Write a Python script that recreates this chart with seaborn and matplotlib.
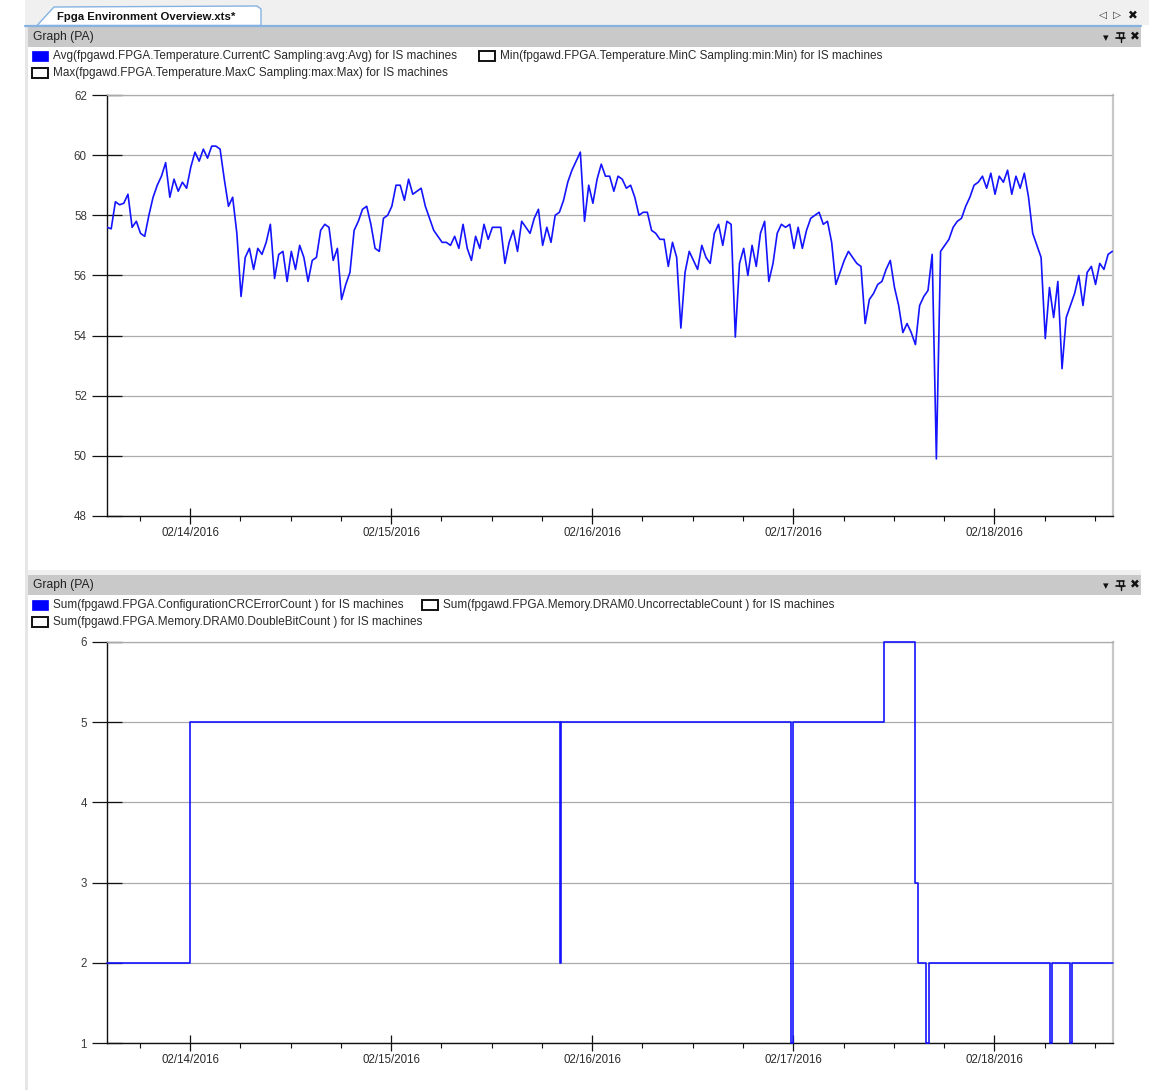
import matplotlib
matplotlib.use('Agg')
import matplotlib.pyplot as plt
import matplotlib.dates as mdates
from matplotlib.patches import Rectangle, Polygon
import pandas as pd
import seaborn as sns

# ---------------- data ----------------
temp_start = '2016-02-13 14:05'   # one sample every 30 minutes
temp_values = [
    57.6, 57.55, 58.45, 58.35, 58.4, 58.7, 57.6, 57.8, 57.4, 57.3,
    58.0, 58.6, 59.0, 59.3, 59.75, 58.6, 59.2, 58.8, 59.1, 58.9,
    59.6, 60.1, 59.8, 60.2, 59.9, 60.3, 60.3, 60.2, 59.2, 58.3,
    58.6, 57.4, 55.3, 56.6, 56.9, 56.2, 56.9, 56.7, 57.1, 57.7,
    55.9, 56.7, 56.8, 55.8, 56.8, 56.2, 57.0, 56.6, 55.8, 56.5,
    56.6, 57.5, 57.7, 57.6, 56.5, 56.9, 55.2, 55.7, 56.1, 57.5,
    57.8, 58.2, 58.3, 57.7, 56.9, 56.8, 57.9, 58.0, 58.3, 59.0,
    59.0, 58.5, 59.2, 58.7, 58.8, 58.9, 58.3, 57.9, 57.5, 57.3,
    57.1, 57.1, 57.0, 57.3, 56.9, 57.7, 56.9, 56.5, 57.3, 56.9,
    57.7, 57.2, 57.6, 57.6, 57.6, 56.4, 57.1, 57.5, 56.8, 57.8,
    57.6, 57.4, 57.9, 58.2, 57.0, 57.6, 57.1, 58.0, 58.1, 58.5,
    59.1, 59.5, 59.8, 60.1, 57.8, 59.0, 58.4, 59.2, 59.7, 59.3,
    59.3, 58.8, 59.3, 59.2, 58.9, 59.0, 58.6, 58.0, 58.1, 58.1,
    57.5, 57.4, 57.2, 57.2, 56.3, 57.1, 56.6, 54.25, 56.1, 56.8,
    56.5, 56.2, 57.0, 56.6, 56.4, 57.4, 57.7, 57.0, 57.8, 57.7,
    53.95, 56.4, 56.9, 56.0, 57.0, 56.3, 57.4, 57.8, 55.8, 56.4,
    57.4, 57.7, 57.6, 57.7, 56.9, 57.6, 56.9, 57.5, 57.9, 58.0,
    58.1, 57.7, 57.8, 57.1, 55.7, 56.1, 56.5, 56.8, 56.6, 56.4,
    56.3, 54.4, 55.2, 55.4, 55.7, 55.8, 56.2, 56.5, 55.6, 55.0,
    54.1, 54.4, 54.1, 53.7, 55.0, 55.3, 55.5, 56.7, 49.9, 56.8,
    57.0, 57.2, 57.6, 57.8, 57.9, 58.3, 58.6, 59.0, 59.1, 59.3,
    58.9, 59.4, 58.7, 59.3, 59.1, 59.5, 58.7, 59.3, 58.9, 59.4,
    58.6, 57.4, 57.0, 56.6, 53.9, 55.6, 54.6, 55.8, 52.9, 54.6,
    55.0, 55.4, 56.0, 55.0, 56.1, 56.3, 55.7, 56.4, 56.2, 56.7, 56.8,
]

crc_times = [
    '2016-02-13 14:05', '2016-02-14 00:00', '2016-02-15 20:10', '2016-02-15 20:20',
    '2016-02-16 23:45', '2016-02-16 23:55', '2016-02-17 10:50', '2016-02-17 14:30',
    '2016-02-17 14:55', '2016-02-17 15:50', '2016-02-17 16:15', '2016-02-18 06:40',
    '2016-02-18 06:50', '2016-02-18 09:05', '2016-02-18 09:15', '2016-02-18 14:10',
]
crc_values = [2, 5, 2, 5, 1, 5, 6, 3, 2, 1, 2, 1, 2, 1, 2, 2]

top_legend = [
    'Avg(fpgawd.FPGA.Temperature.CurrentC Sampling:avg:Avg) for IS machines',
    'Min(fpgawd.FPGA.Temperature.MinC Sampling:min:Min) for IS machines',
    'Max(fpgawd.FPGA.Temperature.MaxC Sampling:max:Max) for IS machines',
]
bottom_legend = [
    'Sum(fpgawd.FPGA.ConfigurationCRCErrorCount ) for IS machines',
    'Sum(fpgawd.FPGA.Memory.DRAM0.UncorrectableCount ) for IS machines',
    'Sum(fpgawd.FPGA.Memory.DRAM0.DoubleBitCount ) for IS machines',
]
top_yticks = [48, 50, 52, 54, 56, 58, 60, 62]
bottom_yticks = [1, 2, 3, 4, 5, 6]

x_start = pd.Timestamp('2016-02-13 14:05')
x_end = pd.Timestamp('2016-02-18 14:10')

# ---------------- style ----------------
W, H = 1149, 1090
LINE = '#1414ff'
GRID = '#ababab'
TEXT = '#2a2a2a'
FONT = 'Liberation Sans'
LEG_SIZE = 8.45

sns.set_theme(style='white')
plt.rcParams['font.family'] = [FONT, 'DejaVu Sans']


def box(x0, y0, x1, y1):
    return [x0 / W, 1 - y1 / H, (x1 - x0) / W, (y1 - y0) / H]


fig = plt.figure(figsize=(W / 100, H / 100), dpi=100)
fig.patch.set_facecolor('white')

# background axes in pixel coordinates for the window chrome
bg = fig.add_axes([0, 0, 1, 1], zorder=0)
bg.set_xlim(0, W)
bg.set_ylim(H, 0)
bg.axis('off')

bg.add_patch(Rectangle((25, 0), W - 25, 25, facecolor='#f0f0f0', edgecolor='none'))
bg.add_patch(Rectangle((25, 25), 3, H - 25, facecolor='#e6e6e6', edgecolor='none'))
bg.add_patch(Polygon([(37, 25.5), (54, 7), (257, 6), (261, 9), (261, 25.5)], closed=True,
                     facecolor='white', edgecolor='#86b2e2', lw=1.0))
bg.plot([25, 1141], [25.5, 25.5], color='#86b2e2', lw=1.6)
bg.text(57, 16.5, 'Fpga Environment Overview.xts*', fontsize=8.2, fontweight='bold',
        color='#111111', va='center', ha='left')
bg.text(1103, 15, '\u25c1', fontsize=7.5, color='#333333', va='center', ha='center', family='DejaVu Sans')
bg.text(1117, 15, '\u25b7', fontsize=7.5, color='#333333', va='center', ha='center', family='DejaVu Sans')
bg.text(1133, 15.5, '\u2716', fontsize=8.5, color='#111111', va='center', ha='center', family='DejaVu Sans')

bg.add_patch(Rectangle((28, 570), 1113, 5, facecolor='#f0f0f0', edgecolor='none'))
for hy in (27, 575):
    bg.add_patch(Rectangle((28, hy), 1113, 19.5, facecolor='#c9c9c9', edgecolor='none'))
    bg.text(33, hy + 10, 'Graph (PA)', fontsize=8.7, color='#222222', va='center', ha='left')
    bg.text(1106, hy + 11, '\u25be', fontsize=8, color='#111111', va='center', ha='center', family='DejaVu Sans')
    # pin icon
    bg.plot([1117, 1124], [hy + 5.5, hy + 5.5], color='#111111', lw=1.2)
    bg.plot([1118.5, 1118.5, 1122.5, 1122.5], [hy + 5.5, hy + 10.5, hy + 10.5, hy + 5.5], color='#111111', lw=1.0)
    bg.plot([1116, 1125], [hy + 10.5, hy + 10.5], color='#111111', lw=1.2)
    bg.plot([1120.5, 1120.5], [hy + 10.5, hy + 14.5], color='#111111', lw=1.0)
    bg.text(1135, hy + 10, '\u2716', fontsize=8.5, color='#111111', va='center', ha='center', family='DejaVu Sans')


def legend_item(x, y, label, filled):
    if filled:
        bg.add_patch(Rectangle((x, y - 5), 16, 10, facecolor='#0000ff', edgecolor='#0000ff', lw=0.5))
    else:
        bg.add_patch(Rectangle((x, y - 5), 16, 10, facecolor='white', edgecolor='#111111', lw=1.4))
    bg.text(x + 21, y, label, fontsize=LEG_SIZE, color=TEXT, va='center', ha='left')


legend_item(32, 56, top_legend[0], True)
legend_item(479, 56, top_legend[1], False)
legend_item(32, 73, top_legend[2], False)
legend_item(32, 605, bottom_legend[0], True)
legend_item(422, 605, bottom_legend[1], False)
legend_item(32, 622, bottom_legend[2], False)

# ---------------- charts ----------------
temp_df = pd.DataFrame({
    'time': pd.date_range(temp_start, periods=len(temp_values), freq='30min'),
    'temp': temp_values,
})
crc_df = pd.DataFrame({'time': pd.to_datetime(crc_times), 'count': crc_values})

ax1 = fig.add_axes(box(107, 95, 1113, 516), zorder=2)
ax2 = fig.add_axes(box(107, 642, 1113, 1043), zorder=2)

sns.lineplot(data=temp_df, x='time', y='temp', ax=ax1, color=LINE, linewidth=1.2,
             estimator=None, legend=False, zorder=4)
sns.lineplot(data=crc_df, x='time', y='count', ax=ax2, color=LINE, linewidth=1.2,
             estimator=None, legend=False, drawstyle='steps-post', clip_on=False, zorder=4)

for ax, yticks in ((ax1, top_yticks), (ax2, bottom_yticks)):
    ax.set_facecolor('white')
    ax.set_xlim(x_start, x_end)
    ax.set_ylim(yticks[0], yticks[-1])
    ax.set_yticks(yticks)
    ax.set_xlabel('')
    ax.set_ylabel('')
    ax.xaxis.set_major_locator(mdates.DayLocator())
    ax.xaxis.set_major_formatter(mdates.DateFormatter('%m/%d/%Y'))
    ax.xaxis.set_minor_locator(mdates.HourLocator(byhour=[0, 6, 12, 18]))
    ax.grid(axis='y', color=GRID, lw=0.9)
    ax.grid(axis='x', visible=False)
    ax.set_axisbelow(True)
    for side in ('left', 'bottom'):
        ax.spines[side].set_color('#111111')
        ax.spines[side].set_linewidth(1.0)
    ax.spines['right'].set_color('#c8c8c8')
    ax.spines['right'].set_linewidth(1.6)
    ax.spines['top'].set_color(GRID)
    ax.spines['top'].set_linewidth(0.9)
    ax.tick_params(axis='y', which='major', direction='inout', length=21, width=0.9,
                   color='#111111', labelsize=8.3, labelcolor='#3a3a3a', pad=4, left=True)
    ax.tick_params(axis='x', which='major', direction='inout', length=11.5, width=0.9,
                   color='#111111', labelsize=8.3, labelcolor='#2a2a2a', pad=2.5, bottom=True)
    ax.tick_params(axis='x', which='minor', direction='out', length=3.6, width=0.8,
                   color='#111111', bottom=True)

fig.savefig('out.png', dpi=100, facecolor='white')
